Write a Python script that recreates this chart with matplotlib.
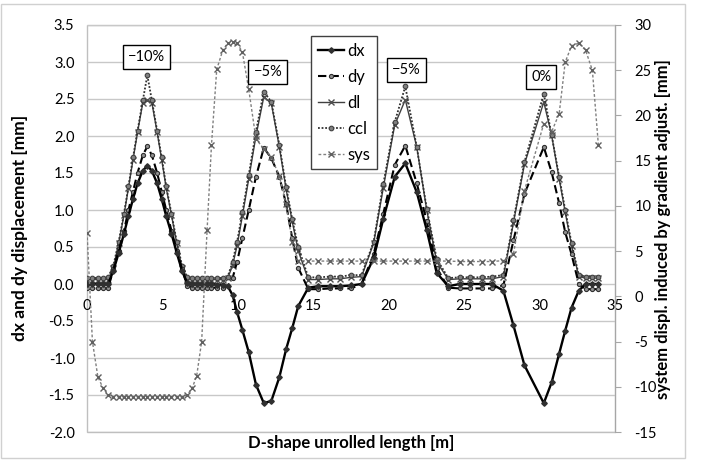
import matplotlib
matplotlib.use('Agg')
import matplotlib.pyplot as plt
from matplotlib.patches import Rectangle
import numpy as np

plt.rcParams['font.family'] = ['Lato', 'DejaVu Sans']

# ---------------- data ----------------
x = [0.0, 0.36, 0.72, 1.05, 1.4,
     1.75, 2.1, 2.45, 2.75, 3.05, 3.35, 3.7, 4.0, 4.3, 4.65, 4.95, 5.25, 5.6, 5.95, 6.3,
     6.65, 6.98, 7.27, 7.6, 7.96, 8.25, 8.6, 9.0,
     9.33, 9.65, 9.95, 10.3, 10.72, 11.2, 11.72, 12.22, 12.75, 13.2, 13.6, 14.0,
     14.67, 15.33, 16.1, 16.77, 17.5,
     18.2, 19.0, 19.64, 20.4, 21.1, 21.86, 22.52, 23.18, 23.95,
     24.7, 25.4, 26.17, 26.83,
     27.6, 28.27, 29.0, 30.28, 30.8, 31.3, 31.7, 32.12, 32.6,
     33.05, 33.5, 33.9]

dx = [0.0, 0.0, 0.0, 0.0, 0.0,
      0.18, 0.42, 0.68, 0.92, 1.15, 1.36, 1.53, 1.60, 1.53, 1.36, 1.15, 0.92, 0.68, 0.42, 0.18,
      0.01, 0.0, 0.0, 0.0, 0.0, 0.0, -0.01, -0.01,
      -0.03, -0.15, -0.38, -0.62, -0.92, -1.36, -1.61, -1.58, -1.26, -0.88, -0.60, -0.30,
      -0.05, -0.03, -0.03, -0.03, -0.02,
      0.0, 0.35, 0.88, 1.45, 1.63, 1.24, 0.73, 0.15, -0.03,
      0.0, 0.0, 0.0, 0.0,
      -0.09, -0.56, -1.10, -1.61, -1.33, -0.94, -0.63, -0.32, -0.09,
      0.0, 0.0, 0.0]

dy = [-0.06, -0.06, -0.06, -0.06, -0.06,
      0.20, 0.45, 0.72, 1.00, 1.25, 1.50, 1.74, 1.86, 1.74, 1.50, 1.25, 1.00, 0.72, 0.45, 0.20,
      -0.03, -0.05, -0.05, -0.05, -0.05, -0.05, -0.05, -0.05,
      -0.03, 0.08, 0.30, 0.62, 1.00, 1.45, 1.84, 1.70, 1.45, 1.08, 0.62, 0.22,
      -0.07, -0.07, -0.06, -0.06, -0.06,
      0.00, 0.40, 0.95, 1.61, 1.87, 1.36, 0.85, 0.22, -0.05,
      -0.06, -0.06, -0.06, -0.06,
      -0.02, 0.59, 1.22, 1.85, 1.51, 1.09, 0.70, 0.40, 0.00,
      -0.07, -0.07, -0.07]

dl = [0.06, 0.06, 0.06, 0.06, 0.06,
      0.22, 0.55, 0.93, 1.30, 1.68, 2.05, 2.45, 2.48, 2.45, 2.05, 1.68, 1.30, 0.93, 0.55, 0.22,
      0.07, 0.06, 0.06, 0.06, 0.06, 0.06, 0.06, 0.06,
      0.08, 0.25, 0.52, 0.92, 1.42, 2.00, 2.53, 2.44, 1.85, 1.28, 0.85, 0.45,
      0.06, 0.06, 0.07, 0.07, 0.09,
      0.10, 0.55, 1.30, 2.15, 2.49, 1.85, 1.00, 0.30, 0.06,
      0.07, 0.07, 0.07, 0.07,
      0.10, 0.83, 1.62, 2.46, 2.01, 1.42, 0.97, 0.52, 0.10,
      0.08, 0.08, 0.08]

ccl = [0.08, 0.08, 0.08, 0.08, 0.09,
       0.25, 0.57, 0.95, 1.32, 1.71, 2.07, 2.48, 2.82, 2.48, 2.07, 1.71, 1.32, 0.95, 0.57, 0.25,
       0.09, 0.08, 0.08, 0.08, 0.08, 0.08, 0.08, 0.08,
       0.10, 0.30, 0.57, 0.97, 1.47, 2.06, 2.60, 2.46, 1.88, 1.31, 0.88, 0.50,
       0.09, 0.09, 0.10, 0.10, 0.12,
       0.12, 0.57, 1.35, 2.19, 2.67, 1.85, 1.02, 0.34, 0.08,
       0.09, 0.09, 0.09, 0.10,
       0.12, 0.86, 1.65, 2.57, 2.01, 1.45, 1.00, 0.55, 0.12,
       0.10, 0.10, 0.10]

sys_ = [7.05, -5.0, -8.9, -10.1, -10.9,
        -11.1, -11.1, -11.1, -11.1, -11.1, -11.1, -11.1, -11.1, -11.1, -11.1, -11.1, -11.1, -11.1, -11.1, -11.1,
        -10.9, -10.1, -8.8, -5.0, 7.3, 16.7, 25.1, 27.2,
        28.0, 28.1, 28.0, 27.0, 22.9, 17.4, 16.3, 15.4, 13.3, 10.2, 6.0, 3.95,
        3.9, 3.9, 3.9, 3.9, 3.9,
        3.9, 3.9, 3.9, 3.9, 3.9, 3.9, 3.9, 3.9, 3.9,
        3.85, 3.85, 3.85, 3.85,
        3.95, 4.7, 11.7, 19.1, 18.2, 20.2, 25.9, 27.7, 28.0,
        27.2, 25.0, 16.7]

x_ticks = [0, 5, 10, 15, 20, 25, 30, 35]
left_ticks = [-2.0, -1.5, -1.0, -0.5, 0.0, 0.5, 1.0, 1.5, 2.0, 2.5, 3.0, 3.5]
right_ticks = [-15, -10, -5, 0, 5, 10, 15, 20, 25, 30]

notes = ["\u221210%", "\u22125%", "\u22125%", "0%"]
note_x = [3.96, 11.99, 21.15, 30.1]
note_y = [3.07, 2.86, 2.89, 2.80]

# ---------------- figure ----------------
W, H = 706, 462
fig = plt.figure(figsize=(W / 100, H / 100), dpi=100)
fig.patches.append(Rectangle((1 / W, 4 / H), 684 / W, 454 / H, transform=fig.transFigure,
                             fill=False, ec='#d0d0d0', lw=1.0))

ax = fig.add_axes([87 / W, 30 / H, 528 / W, 407 / H])
ax.set_xlim(0, 35)
ax.set_ylim(-2.0, 3.5)
for s in ax.spines.values():
    s.set_visible(False)
ax.spines['bottom'].set_position(('data', 0))
ax.add_patch(Rectangle((0, 0), 1, 1, transform=ax.transAxes, fill=False,
                       ec='#bfbfbf', lw=1.0, clip_on=False, zorder=0.5))
ax.set_yticks(left_ticks, labels=[f'{t:.1f}' for t in left_ticks])
ax.set_xticks(x_ticks, labels=[str(t) for t in x_ticks])
ax.tick_params(axis='y', length=0, pad=9, labelsize=10.5)
ax.tick_params(axis='x', length=0, pad=11, labelsize=10.5)
ax.yaxis.grid(True, color='#c8c8c8', lw=1.0)
ax.set_axisbelow(True)

ax.plot(x, dx, color='black', lw=1.7, marker='D', ms=2.8, mfc='#303030', mec='#303030', label='dx', zorder=5)
ax.plot(x, dy, color='black', lw=1.5, dashes=(4, 2), marker='o', ms=3, mfc='#909090', mec='#303030', mew=0.8, label='dy', zorder=4)
ax.plot(x, dl, color='#404040', lw=1.0, marker='x', ms=4, mec='#505050', mew=1.0, label='dl', zorder=3)
ax.plot(x, ccl, color='#303030', lw=1.3, linestyle=(0, (1, 1)), marker='o', ms=3.3, mfc='#808080', mec='#404040', mew=0.8, label='ccl', zorder=3)

ax2 = ax.twinx()
ax2.set_ylim(-15, 30)
for k, s in ax2.spines.items():
    s.set_visible(k == 'right')
ax2.spines['right'].set_color('#a6a6a6')
ax2.set_yticks(right_ticks, labels=[str(t) for t in right_ticks])
ax2.tick_params(axis='y', direction='out', length=4, color='#a6a6a6', pad=10, labelsize=10.5)
ax2.plot(x, sys_, color='#808080', lw=1.0, linestyle=(0, (2, 1.5)), marker='x', ms=4, mec='#606060', mew=1.0, label='sys')

for t, xx, yy in zip(notes, note_x, note_y):
    ax2.text(xx, yy, t, transform=ax.transData, ha='center', va='center', fontsize=10.5,
             bbox=dict(boxstyle='square,pad=0.35', fc='white', ec='black', lw=1.0), zorder=10)

h1, l1 = ax.get_legend_handles_labels()
h2, l2 = ax2.get_legend_handles_labels()
leg = ax2.legend(h1 + h2, l1 + l2, loc='upper left', bbox_to_anchor=((311 - 87) / 528, (432 - 36) / 407),
                 borderaxespad=0, fontsize=12, frameon=True, fancybox=False, framealpha=1,
                 edgecolor='#404040', handlelength=1.6, handletextpad=0.2, labelspacing=0.6,
                 borderpad=0.4)
leg.get_frame().set_linewidth(1.0)
leg.set_zorder(20)

fig.text(20 / W, (H - 228) / H, 'dx and dy displacement [mm]', rotation=90, ha='center', va='center',
         fontsize=12.5, fontweight='bold')
fig.text(663 / W, (H - 229) / H, 'system displ. induced by gradient adjust. [mm]', rotation=90,
         ha='center', va='center', fontsize=12, fontweight='bold')
fig.text(351 / W, (H - 443) / H, 'D-shape unrolled length [m]', ha='center', va='center',
         fontsize=12, fontweight='bold')

fig.savefig('out.png', dpi=100)
